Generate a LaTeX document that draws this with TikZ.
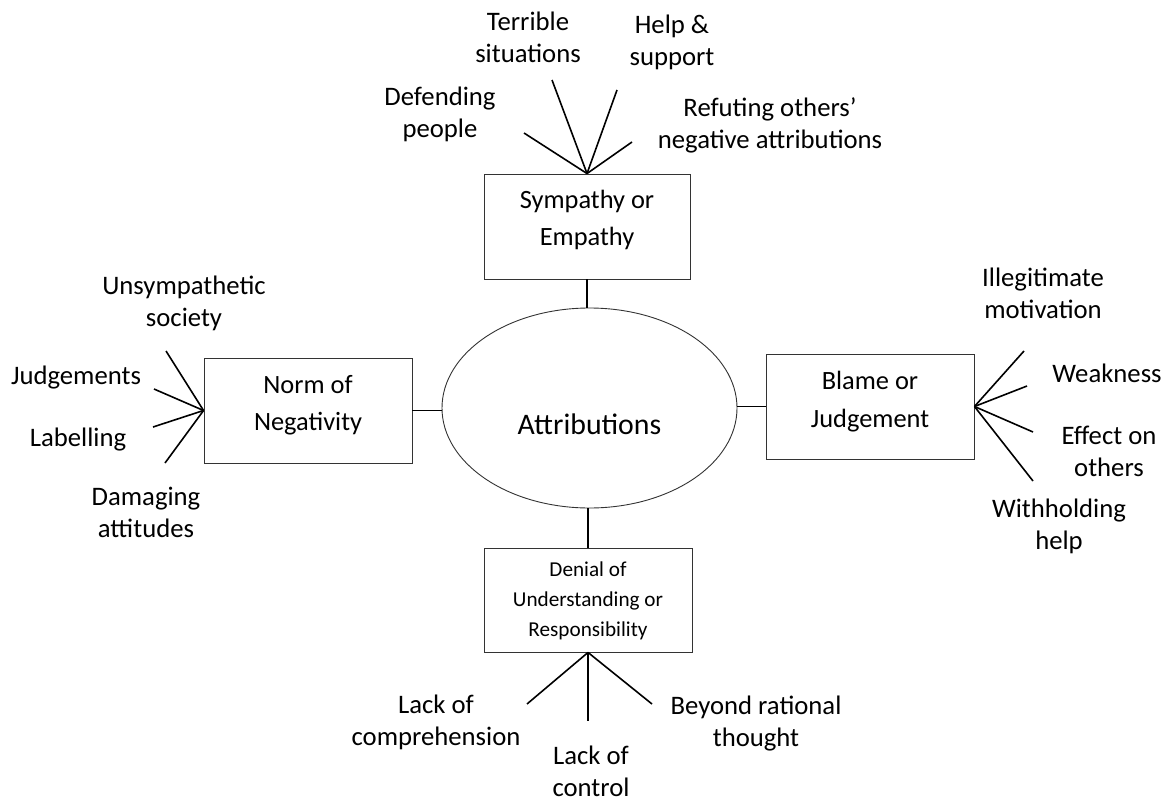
\documentclass[tikz,border=0pt]{standalone}
\usepackage{fontspec}
\setmainfont{Carlito}
\usetikzlibrary{shapes.geometric}
\begin{document}
\begin{tikzpicture}[x=1pt,y=-1pt,
  box/.style={draw=black!80, line width=0.9pt, rectangle, minimum width=206pt, minimum height=105pt, inner sep=0pt},
  boxtxt/.style={align=center, inner sep=0pt, font=\fontsize{26.4}{37.5}\selectfont},
  smalltxt/.style={align=center, inner sep=0pt, font=\fontsize{21.2}{30}\selectfont},
  lbl/.style={align=center, inner sep=0pt, font=\fontsize{26.7}{31.8}\selectfont},
  spoke/.style={line width=1.6pt, black},
  link/.style={line width=1.6pt, black}]
\useasboundingbox (0,0) rectangle (1174,802);

% central ellipse
\node[draw=black!80, line width=0.9pt, ellipse, minimum width=295pt, minimum height=200pt, inner sep=0pt] (attr) at (589.5,408) {};
\node[lbl, font=\fontsize{29.8}{34}\selectfont] (attrT) at (589.5,424) {Attributions};

% four category boxes
\node[box] (sym) at (587,226.5) {};
\node[boxtxt] (symT) at (587,220) {Sympathy or\\Empathy};
\node[box, minimum width=208pt] (norm) at (308,410.5) {};
\node[boxtxt] (normT) at (308,405) {Norm of\\Negativity};
\node[box, minimum width=208pt] (blame) at (870,406.5) {};
\node[boxtxt] (blameT) at (870,401.5) {Blame or\\Judgement};
\node[box, minimum width=208pt, minimum height=104pt] (den) at (588,600) {};
\node[smalltxt] (denT) at (588,601) {Denial of\\Understanding or\\Responsibility};

% links to the ellipse
\draw[link] (sym.south) -- (sym.south |- attr.north);
\draw[link] (norm.east) -- (attr.west |- norm.east);
\draw[link] (blame.west) -- (attr.east |- blame.west);
\draw[link] (den.north) -- (den.north |- attr.south);

% spoke ends
\coordinate (s1) at (524,133);
\coordinate (s2) at (552,80);
\coordinate (s3) at (617,90);
\coordinate (s4) at (632,142);
\coordinate (n1) at (166,351);
\coordinate (n2) at (154,389);
\coordinate (n3) at (153,427);
\coordinate (n4) at (165,463);
\coordinate (b1) at (1024,351);
\coordinate (b2) at (1027,386);
\coordinate (b3) at (1033,432);
\coordinate (b4) at (1033,481);
\coordinate (d1) at (527,704);
\coordinate (d2) at (588,721);
\coordinate (d3) at (652,704);

\foreach \c in {s1,s2,s3,s4} \draw[spoke] (sym.north) -- (\c);
\foreach \c in {n1,n2,n3,n4} \draw[spoke] (norm.west) -- (\c);
\foreach \c in {b1,b2,b3,b4} \draw[spoke] (blame.east) -- (\c);
\foreach \c in {d1,d2,d3} \draw[spoke] (den.south) -- (\c);

% labels
\node[lbl] (t1) at (440,114) {Defending\\people};
\node[lbl] (t2) at (528,37.5) {Terrible\\situations};
\node[lbl] (t3) at (672,42.5) {Help \&\\support};
\node[lbl] (t4) at (770,125) {Refuting others’\\negative attributions};

\node[lbl] (l1) at (184,303.5) {Unsympathetic\\society};
\node[lbl] (l2) at (76,378) {Judgements};
\node[lbl] (l3) at (78,440) {Labelling};
\node[lbl] (l4) at (146,512.5) {Damaging\\attitudes};

\node[lbl] (r1) at (1043,293) {Illegitimate\\motivation};
\node[lbl] (r2) at (1107,373) {Weakness};
\node[lbl] (r3) at (1109,451.5) {Effect on\\others};
\node[lbl] (r4) at (1059,526) {Withholding\\help};

\node[lbl] (u1) at (436,722) {Lack of\\comprehension};
\node[lbl] (u2) at (591,771) {Lack of\\control};
\node[lbl] (u3) at (756,723.5) {Beyond rational\\thought};
\end{tikzpicture}
\end{document}
